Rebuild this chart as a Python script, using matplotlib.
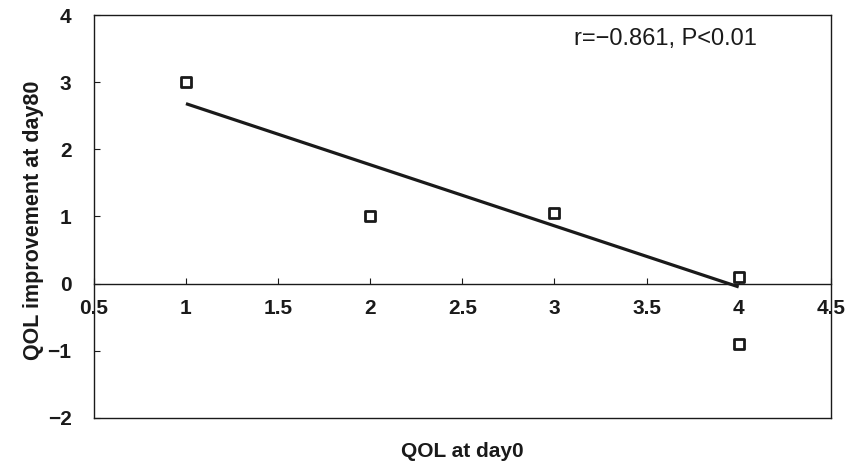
import matplotlib
matplotlib.use("Agg")
import matplotlib.pyplot as plt
import numpy as np

# QOL at day0 vs improvement at day80
qol_day0 = [1, 2, 3, 4, 4]
qol_improve = [3.0, 1.0, 1.05, 0.1, -0.9]
# regression line ends
fit_x = [1, 4]
fit_y = [2.68, -0.05]

x_ticks = [0.5, 1, 1.5, 2, 2.5, 3, 3.5, 4, 4.5]
x_labels = ["0.5", "1", "1.5", "2", "2.5", "3", "3.5", "4", "4.5"]
y_ticks = [-2, -1, 0, 1, 2, 3, 4]

plt.rcParams['font.family'] = ['Liberation Sans', 'DejaVu Sans']
ink = '#1a1a1a'

fig = plt.figure(figsize=(8.53, 4.70), dpi=100)
ax = fig.add_axes([0.110, 0.111, 0.864, 0.857])

ax.plot(fit_x, fit_y, color=ink, lw=2.3, solid_capstyle='butt')
ax.scatter(qol_day0, qol_improve, marker='s', s=55, facecolor='white',
           edgecolor=ink, linewidth=2.0, zorder=3)

ax.set_xlim(0.5, 4.5)
ax.set_ylim(-2, 4)

# x axis drawn along y=0, frame closed at bottom by a plain line
ax.spines['bottom'].set_position(('data', 0))
for s in ax.spines.values():
    s.set_color(ink)
    s.set_linewidth(1.0)
ax.plot([0, 1], [0, 0], transform=ax.transAxes, color=ink, lw=1.0, clip_on=False)

ax.set_xticks(x_ticks)
ax.set_xticklabels(x_labels)
ax.set_yticks(y_ticks)
ax.set_yticklabels([str(v).replace('-', '\u2212') for v in y_ticks])
ax.tick_params(axis='x', direction='in', length=4, width=0.8, pad=11,
               labelsize=15, colors=ink)
ax.tick_params(axis='y', direction='in', length=4, width=0.8, pad=16,
               labelsize=15, colors=ink)
for lab in ax.get_xticklabels() + ax.get_yticklabels():
    lab.set_fontweight('bold')

ax.set_xlabel('QOL at day0', fontsize=15, fontweight='bold', color=ink)
ax.set_ylabel('QOL improvement at day80', fontsize=15.5, fontweight='bold', color=ink)
ax.xaxis.set_label_coords(0.5, -0.06)
ax.yaxis.set_label_coords(-0.068, 0.49)

ax.text(0.652, 0.925, 'r=\u22120.861, P<0.01', transform=ax.transAxes,
        fontsize=17, color=ink)

fig.savefig('out.png', dpi=100)
